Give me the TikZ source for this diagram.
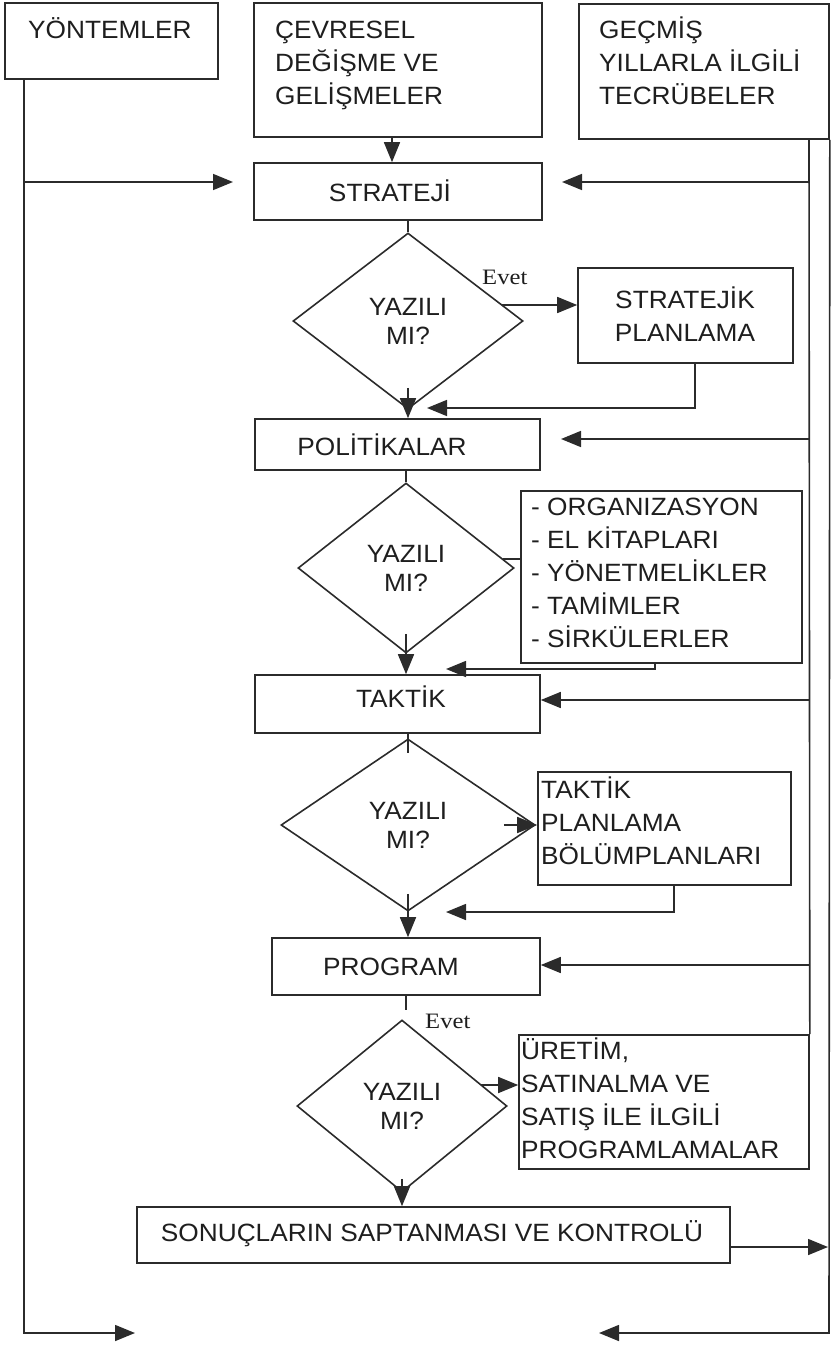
\documentclass[tikz,border=0pt]{standalone}
\usepackage{fontspec}
\setmainfont{Liberation Sans}[FakeStretch=1.05]
\newfontfamily\evetfont{Liberation Serif}[FakeStretch=1.12]
\usetikzlibrary{arrows.meta,shapes.geometric}
\definecolor{lc}{HTML}{2B2B2B}
\definecolor{tc}{HTML}{1E1E1E}
\begin{document}
\begin{tikzpicture}[x=1pt,y=-1pt,
  bx/.style={draw=lc,line width=1.6pt,inner sep=0pt,rectangle},
  dm/.style={draw=lc,line width=1.6pt,inner sep=0pt,diamond,align=center,text=tc,font=\fontsize{25}{29}\selectfont},
  tx/.style={inner sep=0pt,text=tc,font=\fontsize{25}{33}\selectfont,align=left},
  txc/.style={inner sep=0pt,text=tc,font=\fontsize{25}{33}\selectfont,align=center},
  evt/.style={inner sep=0pt,text=tc,font=\evetfont\fontsize{22}{22}\selectfont,anchor=base west},
  ln/.style={draw=lc,line width=1.6pt},
  ar/.style={ln,-{Triangle[length=20pt,width=16pt]}}]
\useasboundingbox (0,0) rectangle (831,1346);
% boxes
\node[bx,minimum width=213pt,minimum height=76pt] (yon) at (111.5,41) {};
\node[bx,minimum width=288pt,minimum height=134pt] (cev) at (398,70) {};
\node[bx,minimum width=250pt,minimum height=135pt] (gec) at (704,71.5) {};
\node[bx,minimum width=288pt,minimum height=57pt] (str) at (398,191.5) {};
\node[dm,minimum width=230pt,minimum height=176pt] (d1) at (408,321) {YAZILI\\MI?};
\node[bx,minimum width=215pt,minimum height=95pt] (stp) at (685.5,315.5) {};
\node[bx,minimum width=285pt,minimum height=51pt] (pol) at (397.5,444.5) {};
\node[dm,minimum width=216pt,minimum height=170pt] (d2) at (406,568) {YAZILI\\MI?};
\node[bx,minimum width=281pt,minimum height=172pt] (org) at (661.5,577) {};
\node[bx,minimum width=285pt,minimum height=58pt] (tak) at (397.5,704) {};
\node[dm,minimum width=254pt,minimum height=172pt] (d3) at (408,825) {YAZILI\\MI?};
\node[bx,minimum width=253pt,minimum height=113pt] (tp) at (664.5,828.5) {};
\node[bx,minimum width=268pt,minimum height=57pt] (prg) at (406,966.5) {};
\node[dm,minimum width=210pt,minimum height=172pt] (d4) at (402,1106) {YAZILI\\MI?};
\node[bx,minimum width=290pt,minimum height=134pt] (ure) at (664,1102) {};
\node[bx,minimum width=593pt,minimum height=56pt] (son) at (433.5,1235) {};
% texts
\node[tx,anchor=base west] (yont) at (28,38) {YÖNTEMLER};
\node[tx,anchor=north west] (cevt) at (275,15) {\strut ÇEVRESEL\\DEĞİŞME VE\\GELİŞMELER};
\node[tx,anchor=north west] (gect) at (599,15) {\strut GEÇMİŞ\\YILLARLA İLGİLİ\\TECRÜBELER};
\node[txc] (strt) at (390,191) {STRATEJİ};
\node[txc] (stpt) at (685,314) {STRATEJİK\\PLANLAMA};
\node[txc] (polt) at (382,445) {POLİTİKALAR};
\node[tx,anchor=north west] (orgt) at (531,492) {\strut - ORGANIZASYON\\- EL KİTAPLARI\\- YÖNETMELİKLER\\- TAMİMLER\\- SİRKÜLERLER};
\node[txc] (takt) at (401,697) {TAKTİK};
\node[tx,anchor=north west] (tpt) at (541,775) {\strut TAKTİK\\PLANLAMA\\BÖLÜMPLANLARI};
\node[txc] (prgt) at (391,967) {PROGRAM};
\node[tx,anchor=north west] (uret) at (521,1036) {\strut ÜRETİM,\\SATINALMA VE\\SATIŞ İLE İLGİLİ\\PROGRAMLAMALAR};
\node[txc] (sont) at (432,1234) {SONUÇLARIN SAPTANMASI VE KONTROLÜ};
\node[evt] (ev1) at (482,284) {Evet};
\node[evt] (ev2) at (425,1028) {Evet};
% coordinates
\coordinate (lx) at (24,0);
\coordinate (ya) at (24,182);
\coordinate (yat) at (233,182);
\coordinate (yb) at (24,1333);
\coordinate (ybt) at (135,1333);
\coordinate (rx) at (809,0);
\coordinate (r1) at (809,182);
\coordinate (r1t) at (562,182);
\coordinate (r2) at (809,439);
\coordinate (r2t) at (561,439);
\coordinate (r3) at (809,700);
\coordinate (r4) at (809,965);
\coordinate (ob) at (829,1333);
\coordinate (obt) at (599,1333);
\coordinate (so) at (730,1247);
\coordinate (sot) at (828,1247);
\coordinate (cx) at (392,0);
\coordinate (e1) at (502,305);
\coordinate (s1) at (695,408);
\coordinate (s1t) at (427,408);
\coordinate (e2) at (503,559);
\coordinate (o1) at (655,669);
\coordinate (o1t) at (446,669);
\coordinate (t1) at (674,912);
\coordinate (t1t) at (446,912);
\coordinate (pb) at (406,1010);
\coordinate (e4) at (481,1085);
% left feed
\draw[ar] (yon.south -| lx) -- (yb) -- (ybt);
\draw[ar] (ya) -- (yat);
% right feeds
\draw[ln] (gec.south -| rx) -- (ure.north east);
\draw[ar] (gec.south east) -- (ob) -- (obt);
\draw[ar] (r1) -- (r1t);
\draw[ar] (r2) -- (r2t);
\draw[ar] (r3) -- (r3 -| tak.east);
\draw[ar] (r4) -- (r4 -| prg.east);
\draw[ar] (so) -- (sot);
% main flow
\draw[ar] (cev.south -| cx) -- (str.north -| cx);
\draw[ln] (str.south -| d1.north) -- (d1.north);
\draw[ar] (e1) -- (e1 -| stp.west);
\draw[ar] (stp.south -| s1) -- (s1) -- (s1t);
\draw[ar] ([yshift=22pt]d1.south) -- (pol.north -| d1.south);
\draw[ln] (pol.south -| d2.north) -- (d2.north);
\draw[ln] (e2) -- (e2 -| org.west);
\draw[ar] (org.south -| o1) -- (o1) -- (o1t);
\draw[ar] ([yshift=20pt]d2.south) -- (tak.north -| d2.south);
\draw[ln] (tak.south -| d3.north) -- ([yshift=-15pt]d3.north);
\draw[ar] ([xshift=-32pt]d3.east) -- (d3.east -| tp.west);
\draw[ar] (tp.south -| t1) -- (t1) -- (t1t);
\draw[ar] ([yshift=18pt]d3.south) -- (prg.north -| d3.south);
\draw[ln] (prg.south -| pb) -- (pb);
\draw[ar] (e4) -- (e4 -| ure.west);
\draw[ar] ([yshift=14pt]d4.south) -- (son.north -| d4.south);
\end{tikzpicture}
\end{document}
